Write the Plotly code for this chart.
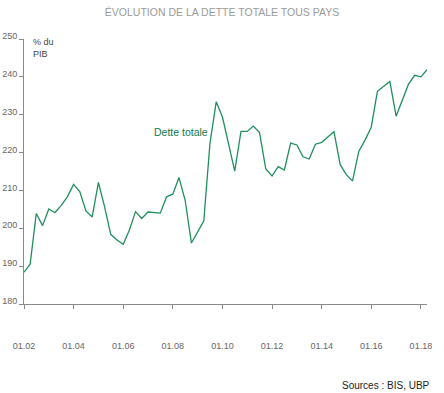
import pandas as pd
import plotly.graph_objects as go

# Quarterly dates, Q1 2002 .. Q2 2018
quarters = pd.date_range(start="2002-01-01", periods=66, freq="QS")

debt_pct_gdp = [
    188.4, 190.5, 203.9, 200.7, 205.1, 204.1, 206.0, 208.3, 211.6, 209.7,
    204.6, 203.0, 212.1, 205.7, 198.4, 196.9, 195.8, 199.5, 204.4, 202.6,
    204.3, 204.1, 204.0, 208.3, 209.0, 213.4, 207.4, 196.1, 199.0, 201.9,
    222.4, 233.4, 229.4, 222.0, 215.1, 225.6, 225.6, 227.0, 225.3, 215.7,
    213.8, 216.3, 215.4, 222.5, 222.0, 218.9, 218.3, 222.2, 222.7, 224.1,
    225.5, 216.8, 214.1, 212.5, 220.3, 223.3, 226.7, 236.2, 237.5, 238.8,
    229.6, 233.7, 238.0, 240.4, 240.0, 241.9,
]

x_tick_vals = ["2002-01-01", "2004-01-01", "2006-01-01", "2008-01-01", "2010-01-01",
               "2012-01-01", "2014-01-01", "2016-01-01", "2018-01-01"]
x_tick_text = ["01.02", "01.04", "01.06", "01.08", "01.10", "01.12", "01.14", "01.16", "01.18"]
y_tick_vals = [180, 190, 200, 210, 220, 230, 240, 250]

FONT = "Liberation Sans, Arial, sans-serif"
LINE_GREEN = "#1f8f5c"
TEXT_GREEN = "#0e7a4c"
AXIS_GRAY = "#8a8a8a"

fig = go.Figure()
fig.add_trace(go.Scatter(
    x=quarters, y=debt_pct_gdp, mode="lines",
    line=dict(color=LINE_GREEN, width=1.3),
    hoverinfo="skip", showlegend=False,
))

fig.update_layout(
    width=444, height=393,
    margin=dict(l=24, r=17, t=39, b=89, autoexpand=False),
    paper_bgcolor="white", plot_bgcolor="white",
    font=dict(family=FONT, size=9, color="#666666"),
    title=dict(text="ÉVOLUTION DE LA DETTE TOTALE TOUS PAYS",
               x=0.5, xref="container", xanchor="center",
               y=1 - 12 / 393, yref="container", yanchor="middle",
               font=dict(family=FONT, size=10.5, color="#9a9a9a")),
    xaxis=dict(
        range=["2002-01-01", "2018-04-01"],
        tickvals=x_tick_vals, ticktext=x_tick_text,
        showgrid=False, zeroline=False, automargin=False,
        showline=True, linecolor=AXIS_GRAY, linewidth=1,
        ticks="outside", ticklen=4, tickcolor=AXIS_GRAY, tickwidth=1,
        ticklabelstandoff=29,
        tickfont=dict(family=FONT, size=9, color="#666666"),
    ),
    yaxis=dict(
        range=[180, 250],
        tickvals=y_tick_vals,
        showgrid=False, zeroline=False, automargin=False,
        showline=True, linecolor=AXIS_GRAY, linewidth=1,
        ticks="outside", ticklen=4, tickcolor=AXIS_GRAY, tickwidth=1,
        ticklabelshift=-3,
        tickfont=dict(family=FONT, size=9, color="#666666"),
    ),
)

fig.add_annotation(
    text="% du<br>PIB", xref="paper", yref="paper",
    x=(31 - 24) / 403, y=(304 - 35) / 265, xanchor="left", yanchor="top",
    align="left", showarrow=False,
    font=dict(family=FONT, size=9, color="#444444"),
)
fig.add_annotation(
    text="Dette totale", xref="paper", yref="paper",
    x=(152 - 24) / 403, y=(304 - 131.7) / 265, xanchor="left", yanchor="middle",
    showarrow=False,
    font=dict(family=FONT, size=10.5, color=TEXT_GREEN),
)
fig.add_annotation(
    text="Sources : BIS, UBP", xref="paper", yref="paper",
    x=(432 - 24) / 403, y=(304 - 385) / 265, xanchor="right", yanchor="middle",
    showarrow=False,
    font=dict(family=FONT, size=10, color="#222222"),
)

fig.write_html("out.html",
               config={"displayModeBar": False},
               post_script="document.body.style.margin='0';document.body.style.padding='0';")
